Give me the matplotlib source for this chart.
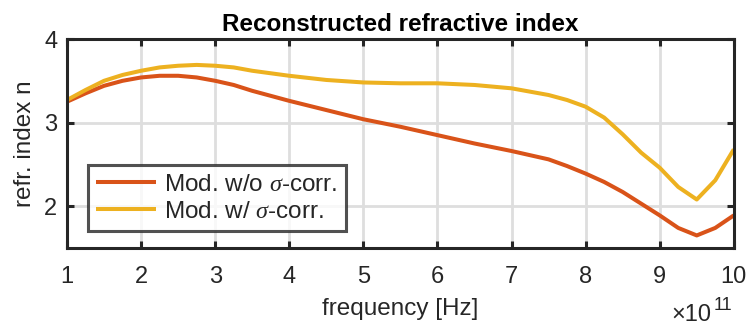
import matplotlib
matplotlib.use("Agg")
import matplotlib.pyplot as plt

plt.rcParams["font.family"] = ["Liberation Sans", "DejaVu Sans"]
plt.rcParams["mathtext.fontset"] = "custom"
plt.rcParams["mathtext.rm"] = "Liberation Sans"
plt.rcParams["mathtext.it"] = "Liberation Serif:italic"

# frequency in units of 1e11 Hz
freq_wo = [1.0, 1.25, 1.5, 1.75, 2.0, 2.25, 2.5, 2.75, 3.0, 3.25, 3.5, 3.75, 4.0,
           4.5, 5.0, 5.5, 6.0, 6.5, 7.0, 7.5, 7.75, 8.0, 8.25, 8.5, 8.75, 9.0,
           9.25, 9.5, 9.75, 10.0]
n_wo = [3.25, 3.35, 3.44, 3.50, 3.54, 3.56, 3.56, 3.54, 3.50, 3.45, 3.38, 3.32,
        3.26, 3.15, 3.04, 2.95, 2.85, 2.75, 2.66, 2.56, 2.48, 2.39, 2.29, 2.17,
        2.03, 1.89, 1.74, 1.65, 1.74, 1.89]

freq_w = [1.0, 1.25, 1.5, 1.75, 2.0, 2.25, 2.5, 2.75, 3.0, 3.25, 3.5, 3.75, 4.0,
          4.5, 5.0, 5.5, 6.0, 6.5, 7.0, 7.5, 7.75, 8.0, 8.25, 8.5, 8.75, 9.0,
          9.25, 9.5, 9.75, 10.0]
n_w = [3.27, 3.39, 3.50, 3.57, 3.62, 3.66, 3.68, 3.69, 3.68, 3.66, 3.62, 3.59,
       3.56, 3.51, 3.48, 3.47, 3.47, 3.45, 3.41, 3.33, 3.27, 3.19, 3.06, 2.86,
       2.64, 2.46, 2.23, 2.08, 2.31, 2.68]

labels = ["Mod. w/o $\\sigma$-corr.", "Mod. w/ $\\sigma$-corr."]
colors = ["#D95319", "#EDB120"]
xticks = [1, 2, 3, 4, 5, 6, 7, 8, 9, 10]
yticks = [2, 3, 4]

fig = plt.figure(figsize=(7.48, 3.25), dpi=100)
ax = fig.add_axes([0.0896, 0.237, 0.8914, 0.643])

ax.plot(freq_wo, n_wo, color=colors[0], lw=2.9, label=labels[0],
        solid_joinstyle="round", solid_capstyle="butt")
ax.plot(freq_w, n_w, color=colors[1], lw=2.9, label=labels[1],
        solid_joinstyle="round", solid_capstyle="butt")

ax.set_xlim(1, 10)
ax.set_ylim(1.5, 4)
ax.set_xticks(xticks)
ax.set_yticks(yticks)
ax.grid(True, color="#dedede", lw=2.0)
ax.set_axisbelow(True)

for s in ax.spines.values():
    s.set_color("#262626")
    s.set_linewidth(2.2)
ax.tick_params(direction="in", length=5, width=2.2, color="#262626",
               labelsize=17, labelcolor="#262626", top=True, right=True)
ax.tick_params(axis="x", pad=13)
ax.tick_params(axis="y", pad=7)

ax.set_xlabel("frequency [Hz]", fontsize=17.5, color="#262626", labelpad=7)
ax.set_ylabel("refr. index n", fontsize=17.5, color="#262626", labelpad=6)
ax.set_title("Reconstructed refractive index", fontsize=17.5, fontweight="bold",
             color="black", pad=6)

# exponent of the frequency axis
fig.text(0.898, 0.012, "\u00d710", fontsize=17, color="#262626",
         ha="left", va="baseline")
fig.text(0.954, 0.046, "11", fontsize=13, color="#262626",
         ha="left", va="baseline")

leg = ax.legend(loc="lower left", bbox_to_anchor=(0.031, 0.08), fontsize=17.5,
                frameon=True, fancybox=False, handlelength=2.45, handletextpad=0.35,
                borderpad=0.35, labelspacing=0.2, borderaxespad=0)
leg.get_frame().set_edgecolor("#262626")
leg.get_frame().set_linewidth(2.2)
for t in leg.get_texts():
    t.set_color("#262626")

fig.savefig("out.png", dpi=100)
